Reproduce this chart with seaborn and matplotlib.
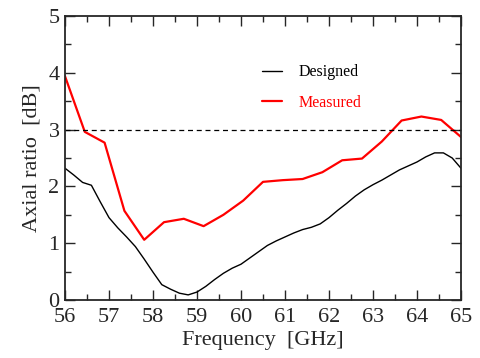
import numpy as np
import pandas as pd
import matplotlib
matplotlib.use("Agg")
import matplotlib.pyplot as plt
import seaborn as sns

# Designed (simulated) axial ratio
designed_freq = [56.0, 56.2, 56.4, 56.6, 56.8, 57.0, 57.2, 57.4, 57.6, 57.8,
                 58.0, 58.2, 58.4, 58.6, 58.8, 59.0, 59.2, 59.4, 59.6, 59.8,
                 60.0, 60.2, 60.4, 60.6, 60.8, 61.0, 61.2, 61.4, 61.6, 61.8,
                 62.0, 62.2, 62.4, 62.6, 62.8, 63.0, 63.2, 63.4, 63.6, 63.8,
                 64.0, 64.2, 64.4, 64.6, 64.8, 65.0]
designed_ar = [2.32, 2.20, 2.07, 2.02, 1.73, 1.45, 1.27, 1.11, 0.94, 0.72,
               0.49, 0.27, 0.19, 0.12, 0.09, 0.14, 0.24, 0.36, 0.47, 0.56,
               0.63, 0.74, 0.85, 0.96, 1.04, 1.11, 1.18, 1.24, 1.28, 1.34,
               1.45, 1.58, 1.70, 1.83, 1.94, 2.03, 2.11, 2.20, 2.29, 2.36,
               2.43, 2.52, 2.59, 2.59, 2.50, 2.32]

# Measured axial ratio
measured_freq = [56.0, 56.45, 56.9, 57.35, 57.8, 58.25, 58.7, 59.15, 59.6, 60.05,
                 60.5, 60.95, 61.4, 61.85, 62.3, 62.75, 63.2, 63.65, 64.1, 64.55, 65.0]
measured_ar = [3.94, 2.96, 2.77, 1.57, 1.06, 1.37, 1.43, 1.30, 1.50, 1.75,
               2.08, 2.11, 2.13, 2.25, 2.46, 2.49, 2.79, 3.16, 3.23, 3.17, 2.87]

x_ticks = [56, 57, 58, 59, 60, 61, 62, 63, 64, 65]
y_ticks = [0, 1, 2, 3, 4, 5]
threshold = 3

df = pd.concat([
    pd.DataFrame({"Frequency": designed_freq, "AR": designed_ar, "Series": "Designed"}),
    pd.DataFrame({"Frequency": measured_freq, "AR": measured_ar, "Series": "Measured"}),
], ignore_index=True)

sns.set_style("ticks")
plt.rcParams['font.family'] = ['Liberation Serif', 'DejaVu Serif']

fig = plt.figure(figsize=(4.8, 3.58), dpi=100)
ax = fig.add_axes([65/480, 1 - 300/358, (461-65)/480, (300-16)/358])

sns.lineplot(data=df[df.Series == "Designed"], x="Frequency", y="AR", color="black",
             lw=1.0, ax=ax, label="Designed", estimator=None)
sns.lineplot(data=df[df.Series == "Measured"], x="Frequency", y="AR", color="#ff0000",
             lw=1.6, ax=ax, label="Measured", estimator=None)
ax.axhline(threshold, color="black", lw=0.9, ls=(0, (4, 3)))

ax.set_xlim(56, 65)
ax.set_ylim(0, 5)
ax.set_xticks(x_ticks)
ax.set_yticks(y_ticks)
ax.set_xticks(np.arange(56.5, 65, 1), minor=True)
ax.set_yticks(np.arange(0.5, 5, 1), minor=True)
ax.tick_params(which="both", direction="in", top=True, right=True, labelsize=16, width=1.0)
ax.tick_params(which="major", length=7)
ax.tick_params(which="minor", length=4)
ax.tick_params(axis="x", pad=6)
ax.tick_params(axis="y", pad=4)
for s in ax.spines.values():
    s.set_linewidth(1.3)

ax.set_xlabel("Frequency  [GHz]", fontsize=16, labelpad=3)
ax.set_ylabel("Axial ratio  [dB]", fontsize=16, labelpad=5)

leg = ax.legend(loc="upper left", bbox_to_anchor=(0.46, 0.88), frameon=False,
                fontsize=11.5, handlelength=1.3, handletextpad=1.0, labelspacing=0.9)
for t, h in zip(leg.get_texts(), leg.get_lines()):
    t.set_color(h.get_color())

fig.savefig("out.png", dpi=100)
